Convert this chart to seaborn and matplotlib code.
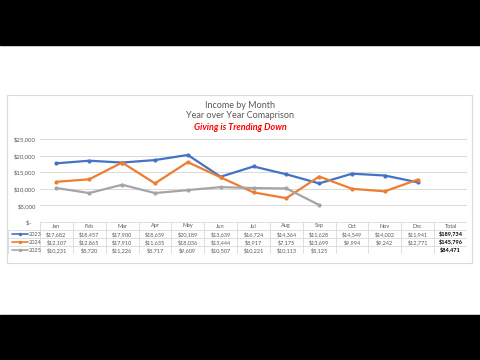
import numpy as np
import pandas as pd
import matplotlib
matplotlib.use("Agg")
import matplotlib.pyplot as plt
import seaborn as sns
from matplotlib.patches import Rectangle
from matplotlib.lines import Line2D

mesi = ['Jan', 'Feb', 'Mar', 'Apr', 'May', 'Jun', 'Jul', 'Aug', 'Sep', 'Oct', 'Nov', 'Dec']
anni = ['2023', '2024', '2025']
valori_2023 = [17682, 18457, 17900, 18659, 20189, 13639, 16724, 14364, 11628, 14549, 14002, 11941]
valori_2024 = [12107, 12865, 17910, 11635, 18036, 13444, 8917, 7175, 13699, 9994, 9242, 12771]
valori_2025 = [10231, 8720, 11226, 8717, 9609, 10507, 10221, 10113, 5125]
totali = [189734, 145796, 84471]
colori = ['#4472C4', '#ED7D31', '#A5A5A5']
tick_y = [0, 5000, 10000, 15000, 20000, 25000]

sns.set_theme(style='white')
plt.rcParams['font.family'] = ['Lato', 'DejaVu Sans']

serie = [valori_2023, valori_2024, valori_2025]
righe = []
for anno, vals in zip(anni, serie):
    for i, v in enumerate(vals):
        righe.append({'Mese': i, 'Anno': anno, 'Valore': v})
df = pd.DataFrame(righe)

W, H = 480, 360
fig = plt.figure(figsize=(4.8, 3.6), dpi=100, facecolor='white')

# bande nere e cornice del grafico
fig.patches.append(Rectangle((0, 1 - 45 / H), 1, 45 / H, transform=fig.transFigure, color='black', zorder=-2))
fig.patches.append(Rectangle((0, 0), 1, 45 / H, transform=fig.transFigure, color='black', zorder=-2))
fig.patches.append(Rectangle((7 / W, 1 - 263 / H), 465 / W, 168 / H, transform=fig.transFigure,
                             facecolor='white', edgecolor='#D9D9D9', lw=0.8, zorder=-1))

grigio = '#595959'
fig.text(0.5, 1 - 105 / H, 'Income by Month', ha='center', va='center', fontsize=6.5, color=grigio)
fig.text(0.5, 1 - 116 / H, 'Year over Year Comaprison', ha='center', va='center', fontsize=6.5, color=grigio)
fig.text(0.5, 1 - 127 / H, 'Giving is Trending Down', ha='center', va='center', fontsize=6.5,
         color='#FF0000', fontweight='bold', fontstyle='italic')

# grafico principale
x0, x1 = 40, 467
ax = fig.add_axes([x0 / W, 1 - 222 / H, (x1 - x0) / W, 83 / H])
ax.patch.set_alpha(0)
for y in tick_y[1:]:
    ax.axhline(y, color='#D9D9D9', lw=0.7, zorder=0)
sns.lineplot(data=df, x='Mese', y='Valore', hue='Anno', palette=colori, marker='o',
             markersize=3, markeredgewidth=0, linewidth=1.6, ax=ax, legend=False)
ax.set_xlim(-0.5, 12.5)
ax.set_ylim(0, 25000)
ax.set_yticks(tick_y)
ax.set_yticklabels(['$-   '] + [f'${v:,}' for v in tick_y[1:]], fontsize=4.3, color=grigio)
ax.set_xticks([])
ax.set_xlabel('')
ax.set_ylabel('')
ax.tick_params(axis='y', length=0, pad=3)
for s in ax.spines.values():
    s.set_visible(False)

# tabella dati sotto il grafico
unita = (x1 - x0) / 13
sx = 8
ax_t = fig.add_axes([sx / W, 1 - 254 / H, (x1 - sx) / W, 32 / H])
sx_dati = -0.5 - (x0 - sx) / unita
ax_t.set_xlim(sx_dati, 12.5)
ax_t.set_ylim(4, 0)
ax_t.axis('off')
linea = dict(color='#D9D9D9', lw=0.6)
ax_t.plot([-0.5, 12.5], [0, 0], **linea)
for r in range(1, 5):
    ax_t.plot([sx_dati, 12.5], [r, r], **linea)
for c in range(14):
    ax_t.plot([c - 0.5, c - 0.5], [0, 4], **linea)
ax_t.plot([sx_dati, sx_dati], [1, 4], **linea)

intest = mesi + ['Total']
for c, t in enumerate(intest):
    ax_t.text(c, 0.5, t, ha='center', va='center', fontsize=4, color=grigio)
for r, (anno, vals, col, tot) in enumerate(zip(anni, serie, colori, totali)):
    yr = r + 1.5
    for c, v in enumerate(vals):
        ax_t.text(c, yr, f'${v:,}', ha='center', va='center', fontsize=4, color=grigio)
    ax_t.text(12, yr, f'${tot:,}', ha='center', va='center', fontsize=4, color='black', fontweight='bold')
    lx = sx_dati + 4 / unita
    ax_t.add_line(Line2D([lx, lx + 8 / unita, lx + 16 / unita], [yr, yr, yr], color=col, lw=1.2,
                         marker='o', markersize=2.5, markevery=[1], markeredgewidth=0))
    ax_t.text(lx + 17 / unita, yr, anno, ha='left', va='center', fontsize=4, color=grigio)

fig.savefig('out.png', dpi=100, facecolor='white')
